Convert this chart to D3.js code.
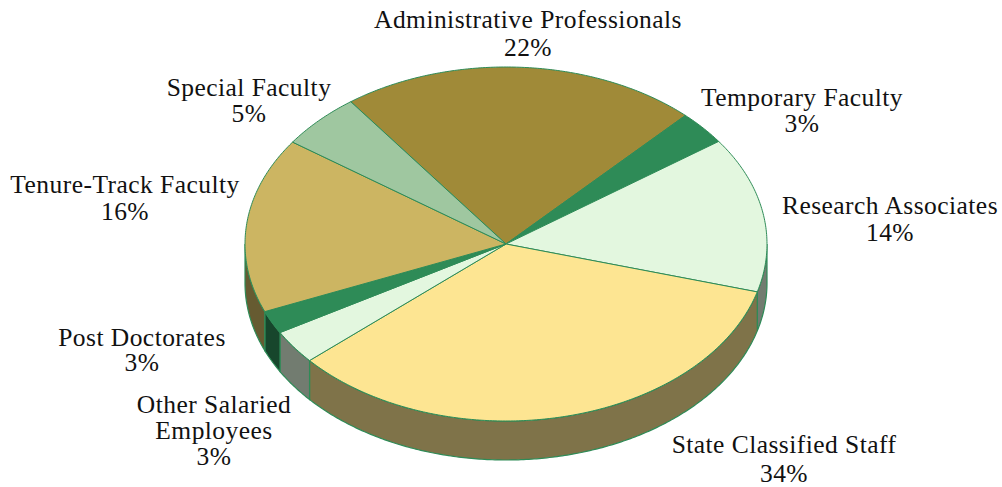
<!DOCTYPE html>
<meta charset="utf-8">
<head>
  <script src="https://d3js.org/d3.v7.min.js"></script>
  <style>
    html, body { margin: 0; background: #fff; }
    svg { display: block; }
    text { font-family: 'Liberation Serif', serif; font-size: 25.5px; fill: #111; text-anchor: middle; letter-spacing: 0.45px; }
  </style>
</head>
<div id="my_dataviz"></div>
<script>
  // slices, clockwise from the Administrative Professionals edge
  var categories = [
    ["Administrative Professionals"],
    ["Temporary Faculty"],
    ["Research Associates"],
    ["State Classified Staff"],
    ["Other Salaried", "Employees"],
    ["Post Doctorates"],
    ["Tenure-Track Faculty"],
    ["Special Faculty"]
  ];
  var values = [22.2, 3.1, 14.2, 34.2, 3.1, 2.1, 16.0, 5.1];
  var percentLabels = ["22%", "3%", "14%", "34%", "3%", "3%", "16%", "5%"];
  var colors = ["#a08a38", "#2e8b57", "#e3f7df", "#fde592", "#e3f7df", "#2e8b57", "#ccb562", "#9fc7a0"];

  var width = 1002, height = 487;
  var cx = 506, cy = 244, rx = 261, ry = 177, depth = 39;

  // where each label block is centred, and its first baseline
  var labelX = [528, 802, 890, 784, 214, 142, 125, 249];
  var labelY = [28, 106, 214, 453, 413, 346, 193, 96];
  var lineGap = [28, 26, 27, 29, 26, 25, 27, 26];

  var svg = d3.select("#my_dataviz")
    .append("svg")
    .attr("width", width)
    .attr("height", height);

  // unit circle --> ellipse on the page
  var x = d3.scaleLinear().domain([-1, 1]).range([cx - rx, cx + rx]);
  var y = d3.scaleLinear().domain([-1, 1]).range([cy - ry, cy + ry]);

  var pie = d3.pie().sort(null)
    .startAngle(-36.5 * Math.PI / 180)
    .endAngle((360 - 36.5) * Math.PI / 180);
  var slices = pie(values);

  var line = d3.line()
    .x(function (d) { return x(Math.sin(d)); })
    .y(function (d) { return y(-Math.cos(d)); });

  function rimAngles(a0, a1) {
    var n = Math.max(2, Math.ceil((a1 - a0) / 0.01));
    return d3.range(n + 1).map(function (i) { return a0 + (a1 - a0) * i / n; });
  }

  // side walls first, only the part of the rim facing the viewer
  var front0 = Math.PI / 2, front1 = Math.PI * 3 / 2;
  slices.forEach(function (s, i) {
    var a0 = Math.max(s.startAngle, front0), a1 = Math.min(s.endAngle, front1);
    if (a1 <= a0) return;
    var rim = rimAngles(a0, a1);
    // lower edge is the same rim moved down by the depth
    var lowerPts = rim.slice().reverse().map(function (d) { return [x(Math.sin(d)), y(-Math.cos(d)) + depth]; });
    var c = d3.rgb(colors[i]);
    svg.append("path")
      .attr("d", line(rim) + "L" + d3.line()(lowerPts).slice(1) + "Z")
      .attr("fill", d3.rgb(c.r * 0.5, c.g * 0.5, c.b * 0.5))
      .attr("stroke", "#2e8b57")
      .attr("stroke-width", 1.2);
  });

  // top of the pie
  svg.selectAll(".slice")
    .data(slices)
    .enter()
    .append("path")
    .attr("class", "slice")
    .attr("d", function (s) {
      return "M" + x(0) + "," + y(0) + "L" + line(rimAngles(s.startAngle, s.endAngle)).slice(1) + "Z";
    })
    .attr("fill", function (s, i) { return colors[i]; })
    .attr("stroke", "#2e8b57")
    .attr("stroke-width", 1);

  // labels
  categories.forEach(function (lines, i) {
    var t = svg.append("text").attr("transform", "translate(" + labelX[i] + "," + labelY[i] + ")");
    lines.concat([percentLabels[i]]).forEach(function (l, j) {
      t.append("tspan").attr("x", 0).attr("y", j * lineGap[i]).text(l);
    });
  });
</script>
